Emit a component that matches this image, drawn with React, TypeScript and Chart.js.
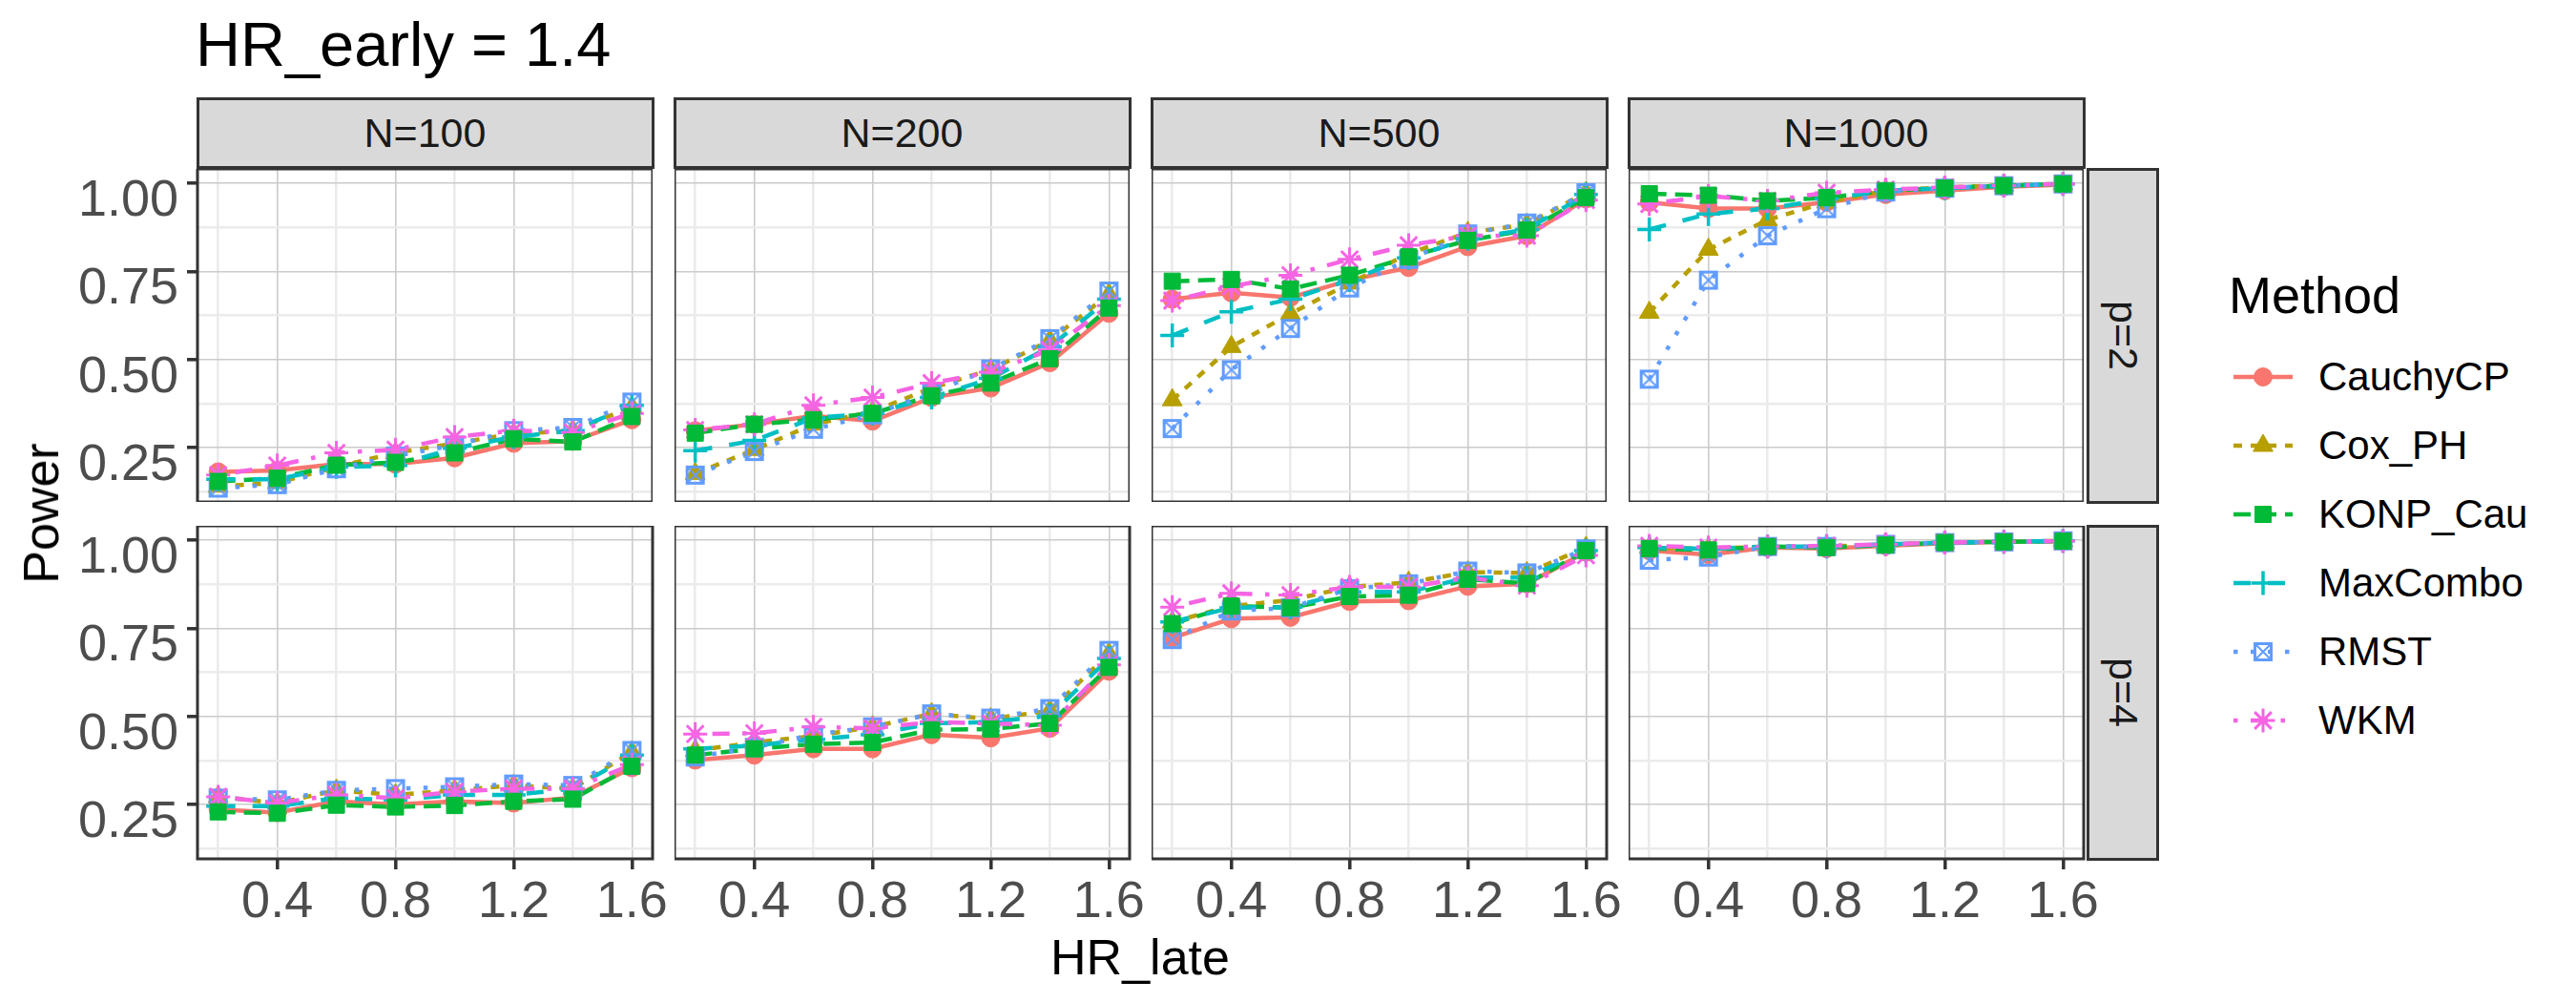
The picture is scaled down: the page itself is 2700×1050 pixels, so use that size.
import { useEffect, useRef } from "react"
import { Chart, type ChartConfiguration, registerables } from "chart.js"
import { drawPoint } from "chart.js/helpers"

Chart.register(...registerables)

// ---- data ----
const hrLate = [0.2, 0.4, 0.6, 0.8, 1.0, 1.2, 1.4, 1.6]
const sampleSizes = ["N=100", "N=200", "N=500", "N=1000"]
const pLabels = ["p=2", "p=4"]
const methods = ["CauchyCP", "Cox_PH", "KONP_Cau", "MaxCombo", "RMST", "WKM"]

const xTickValues = [0.4, 0.8, 1.2, 1.6]
const xTickLabels = ["0.4", "0.8", "1.2", "1.6"]
const xMinorValues = [0.2, 0.6, 1.0, 1.4]
const yTickValues = [0.25, 0.5, 0.75, 1.0]
const yTickLabels = ["0.25", "0.50", "0.75", "1.00"]
const yMinorValues = [0.125, 0.375, 0.625, 0.875]

// power by sample size (N=100, 200, 500, 1000), p = 2
const cauchyP2 = [
  [0.181, 0.185, 0.203, 0.203, 0.221, 0.262, 0.268, 0.329],
  [0.298, 0.316, 0.34, 0.325, 0.392, 0.419, 0.491, 0.631],
  [0.671, 0.689, 0.676, 0.725, 0.761, 0.82, 0.851, 0.955],
  [0.946, 0.928, 0.928, 0.946, 0.968, 0.979, 0.99, 0.996],
]
const coxP2 = [
  [0.14, 0.15, 0.195, 0.235, 0.262, 0.289, 0.298, 0.365],
  [0.176, 0.244, 0.316, 0.352, 0.419, 0.471, 0.554, 0.685],
  [0.385, 0.536, 0.63, 0.716, 0.8, 0.86, 0.883, 0.973],
  [0.633, 0.812, 0.896, 0.946, 0.979, 0.988, 0.994, 0.998],
]
const konpP2 = [
  [0.154, 0.163, 0.2, 0.208, 0.235, 0.275, 0.266, 0.338],
  [0.291, 0.316, 0.329, 0.347, 0.397, 0.433, 0.502, 0.646],
  [0.722, 0.727, 0.7, 0.739, 0.791, 0.838, 0.867, 0.959],
  [0.97, 0.966, 0.95, 0.959, 0.979, 0.986, 0.993, 0.998],
]
const maxComboP2 = [
  [0.16, 0.16, 0.195, 0.199, 0.248, 0.28, 0.298, 0.37],
  [0.241, 0.27, 0.334, 0.347, 0.392, 0.446, 0.536, 0.671],
  [0.568, 0.635, 0.671, 0.725, 0.788, 0.842, 0.869, 0.968],
  [0.869, 0.913, 0.928, 0.955, 0.979, 0.986, 0.993, 0.998],
]
const rmstP2 = [
  [0.135, 0.145, 0.19, 0.226, 0.257, 0.298, 0.307, 0.379],
  [0.172, 0.239, 0.302, 0.343, 0.406, 0.473, 0.559, 0.694],
  [0.304, 0.471, 0.588, 0.703, 0.784, 0.856, 0.887, 0.973],
  [0.444, 0.725, 0.851, 0.928, 0.975, 0.986, 0.993, 0.998],
]
const wkmP2 = [
  [0.172, 0.199, 0.235, 0.244, 0.28, 0.298, 0.293, 0.347],
  [0.3, 0.316, 0.37, 0.392, 0.433, 0.464, 0.527, 0.653],
  [0.667, 0.707, 0.739, 0.784, 0.824, 0.851, 0.851, 0.952],
  [0.941, 0.964, 0.95, 0.973, 0.982, 0.988, 0.993, 0.998],
]

// p = 4
const cauchyP4 = [
  [0.236, 0.227, 0.259, 0.25, 0.259, 0.254, 0.27, 0.354],
  [0.376, 0.39, 0.408, 0.408, 0.448, 0.439, 0.466, 0.628],
  [0.723, 0.777, 0.781, 0.826, 0.828, 0.869, 0.876, 0.966],
  [0.97, 0.959, 0.979, 0.976, 0.984, 0.991, 0.995, 0.997],
]
const coxP4 = [
  [0.272, 0.254, 0.29, 0.277, 0.29, 0.304, 0.295, 0.399],
  [0.403, 0.426, 0.444, 0.47, 0.507, 0.493, 0.516, 0.678],
  [0.768, 0.813, 0.83, 0.867, 0.88, 0.909, 0.907, 0.979],
  [0.979, 0.975, 0.982, 0.982, 0.988, 0.993, 0.995, 0.998],
]
const konpP4 = [
  [0.229, 0.225, 0.248, 0.243, 0.247, 0.259, 0.265, 0.358],
  [0.39, 0.408, 0.421, 0.426, 0.462, 0.464, 0.48, 0.639],
  [0.763, 0.813, 0.808, 0.84, 0.844, 0.889, 0.877, 0.97],
  [0.976, 0.972, 0.982, 0.979, 0.986, 0.993, 0.995, 0.997],
]
const maxComboP4 = [
  [0.245, 0.245, 0.268, 0.263, 0.277, 0.277, 0.295, 0.39],
  [0.408, 0.417, 0.435, 0.448, 0.48, 0.484, 0.502, 0.664],
  [0.768, 0.808, 0.81, 0.853, 0.853, 0.894, 0.894, 0.97],
  [0.979, 0.975, 0.982, 0.982, 0.988, 0.993, 0.995, 0.998],
]
const rmstP4 = [
  [0.268, 0.263, 0.29, 0.295, 0.3, 0.308, 0.304, 0.403],
  [0.385, 0.412, 0.448, 0.47, 0.507, 0.495, 0.522, 0.687],
  [0.718, 0.799, 0.808, 0.862, 0.876, 0.912, 0.907, 0.975],
  [0.943, 0.952, 0.982, 0.982, 0.988, 0.993, 0.995, 0.998],
]
const wkmP4 = [
  [0.272, 0.254, 0.277, 0.268, 0.286, 0.295, 0.295, 0.363],
  [0.45, 0.452, 0.47, 0.466, 0.484, 0.48, 0.475, 0.646],
  [0.81, 0.849, 0.844, 0.867, 0.867, 0.894, 0.871, 0.957],
  [0.984, 0.979, 0.982, 0.984, 0.988, 0.993, 0.995, 0.997],
]

const powerByRow = [
  [cauchyP2, coxP2, konpP2, maxComboP2, rmstP2, wkmP2],
  [cauchyP4, coxP4, konpP4, maxComboP4, rmstP4, wkmP4],
]

// ---- styling ----
const FONT = "'Liberation Sans', Arial, sans-serif"
const COLORS = ["#F8766D", "#B79F00", "#00BA38", "#00BFC4", "#619CFF", "#F564E3"]
const LW = 4.5
const DASHES = [[], [2 * LW, 2 * LW], [4 * LW, 2 * LW], [4 * LW, 4 * LW], [LW, 3 * LW], [LW, 3 * LW, 4 * LW, 3 * LW]]
const POINT_RADIUS = [9.5, 12, 12, 12.5, 11, 12.5]
const POINT_BORDER = [1, 1, 1, 3.5, 0, 3]

const X_MIN = 0.13
const X_MAX = 1.67
const Y_MIN = 0.0957
const Y_MAX = 1.0406

const PANEL_LEFT = [207, 707, 1207, 1707]
const PANEL_TOP = [177, 551]
const PANEL_W = 477
const PANEL_H = 349
const Y_AXIS_W = 150
const X_AXIS_H = 80
const RIGHT_ROOM = 40
const TICK_FONT = 54

let boxX: HTMLCanvasElement | null = null
function boxXStyle() {
  if (boxX) return boxX
  const c = document.createElement("canvas")
  c.width = 22
  c.height = 22
  const g = c.getContext("2d")!
  g.strokeStyle = COLORS[4]
  g.lineWidth = 3
  g.strokeRect(2.5, 2.5, 17, 17)
  g.lineWidth = 2
  g.beginPath()
  g.moveTo(4, 4)
  g.lineTo(18, 18)
  g.moveTo(18, 4)
  g.lineTo(4, 18)
  g.stroke()
  boxX = c
  return c
}

function pointStyleFor(i: number): any {
  return ["circle", "triangle", "rect", "cross", boxXStyle(), "star"][i]
}

const near = (a: number, b: number) => Math.abs(a - b) < 1e-6

const panelBorder = {
  id: "panelBorder",
  afterDraw(chart: Chart) {
    const { ctx, chartArea } = chart
    ctx.save()
    ctx.strokeStyle = "#333333"
    ctx.lineWidth = 3
    ctx.strokeRect(chartArea.left, chartArea.top, chartArea.right - chartArea.left, chartArea.bottom - chartArea.top)
    ctx.restore()
  },
}

function PanelChart({ row, col }: { row: number; col: number }) {
  const chartRef = useRef<HTMLCanvasElement>(null)
  const isLeft = col === 0
  const isBottom = row === 1
  const rightRoom = isBottom ? RIGHT_ROOM : 0
  const left = PANEL_LEFT[col] - (isLeft ? Y_AXIS_W : 0)
  const width = PANEL_W + (isLeft ? Y_AXIS_W : 0) + rightRoom
  const height = PANEL_H + (isBottom ? X_AXIS_H : 0)

  useEffect(() => {
    if (!chartRef.current) return
    const series = powerByRow[row]

    const lineSets = methods.map((m, i) => ({
      label: m,
      data: hrLate.map((x, k) => ({ x, y: series[i][col][k] })),
      showLine: true,
      borderColor: COLORS[i],
      borderWidth: LW,
      borderDash: DASHES[i],
      pointRadius: 0,
      order: 200 - i,
    }))
    const pointSets = methods.map((m, i) => ({
      label: m + " pts",
      data: hrLate.map((x, k) => ({ x, y: series[i][col][k] })),
      showLine: false,
      pointStyle: pointStyleFor(i),
      pointRadius: POINT_RADIUS[i],
      pointBackgroundColor: COLORS[i],
      pointBorderColor: COLORS[i],
      pointBorderWidth: POINT_BORDER[i],
      order: i === 2 ? 0 : 50 - i,
    }))

    const isMajor = (vals: number[], c: any) => vals.some((t) => near(t, c.tick?.value))

    const config: ChartConfiguration = {
      type: "scatter",
      data: { datasets: [...lineSets, ...pointSets] as any },
      options: {
        responsive: false,
        animation: false,
        events: [],
        layout: { padding: { left: 0, top: 0, bottom: 0, right: rightRoom }, autoPadding: false },
        plugins: { legend: { display: false }, tooltip: { enabled: false } },
        scales: {
          x: {
            type: "linear",
            min: X_MIN,
            max: X_MAX,
            afterBuildTicks: (s: any) => {
              s.ticks = [...xMinorValues, ...xTickValues].sort((a, b) => a - b).map((v) => ({ value: v }))
            },
            afterFit: (s: any) => {
              s.height = isBottom ? X_AXIS_H : 0
              s.paddingLeft = 0
              s.paddingRight = 0
            },
            ticks: {
              display: isBottom,
              autoSkip: false,
              maxRotation: 0,
              padding: 3,
              color: "#4D4D4D",
              font: { family: FONT, size: TICK_FONT },
              callback: (v: any) => {
                const i = xTickValues.findIndex((t) => near(t, v))
                return i >= 0 ? xTickLabels[i] : ""
              },
            },
            grid: {
              color: (c: any) => (isMajor(xTickValues, c) ? "#CBCBCB" : "#EBEBEB"),
              lineWidth: (c: any) => (isMajor(xTickValues, c) ? 1.6 : 2.6),
              drawTicks: isBottom,
              tickLength: 11,
              tickWidth: 3.5,
              tickColor: (c: any) => (isMajor(xTickValues, c) ? "#333333" : "rgba(0,0,0,0)"),
            },
            border: { display: false },
          },
          y: {
            type: "linear",
            min: Y_MIN,
            max: Y_MAX,
            afterBuildTicks: (s: any) => {
              s.ticks = [...yMinorValues, ...yTickValues].sort((a, b) => a - b).map((v) => ({ value: v }))
            },
            afterFit: (s: any) => {
              s.width = isLeft ? Y_AXIS_W : 0
              s.paddingTop = 0
              s.paddingBottom = 0
            },
            ticks: {
              display: isLeft,
              autoSkip: false,
              padding: 9,
              labelOffset: 19,
              color: "#4D4D4D",
              font: { family: FONT, size: TICK_FONT },
              callback: (v: any) => {
                const i = yTickValues.findIndex((t) => near(t, v))
                return i >= 0 ? yTickLabels[i] : ""
              },
            },
            grid: {
              color: (c: any) => (isMajor(yTickValues, c) ? "#CBCBCB" : "#EBEBEB"),
              lineWidth: (c: any) => (isMajor(yTickValues, c) ? 1.6 : 2.6),
              drawTicks: isLeft,
              tickLength: 11,
              tickWidth: 3.5,
              tickColor: (c: any) => (isMajor(yTickValues, c) ? "#333333" : "rgba(0,0,0,0)"),
            },
            border: { display: false },
          },
        },
      },
      plugins: [panelBorder],
    }

    const chart = new Chart(chartRef.current, config)
    return () => chart.destroy()
  }, [row, col])

  return (
    <div style={{ position: "absolute", left, top: PANEL_TOP[row], width, height }}>
      <canvas ref={chartRef} width={width} height={height} />
    </div>
  )
}

function LegendKey({ index }: { index: number }) {
  const keyRef = useRef<HTMLCanvasElement>(null)
  useEffect(() => {
    const cv = keyRef.current
    if (!cv) return
    const ctx = cv.getContext("2d")
    if (!ctx) return
    ctx.clearRect(0, 0, cv.width, cv.height)
    ctx.save()
    ctx.strokeStyle = COLORS[index]
    ctx.lineWidth = LW
    ctx.setLineDash(DASHES[index])
    ctx.beginPath()
    ctx.moveTo(1, 22)
    ctx.lineTo(63, 22)
    ctx.stroke()
    ctx.restore()
    ctx.save()
    ctx.fillStyle = COLORS[index]
    ctx.strokeStyle = COLORS[index]
    ctx.lineWidth = POINT_BORDER[index]
    drawPoint(ctx, { pointStyle: pointStyleFor(index), radius: POINT_RADIUS[index], borderWidth: POINT_BORDER[index], rotation: 0 } as any, 32, 22)
    ctx.restore()
  }, [index])
  return <canvas ref={keyRef} width={64} height={44} />
}

const text = (extra: React.CSSProperties): React.CSSProperties => ({
  position: "absolute",
  fontFamily: FONT,
  lineHeight: 1,
  whiteSpace: "nowrap",
  ...extra,
})

const stripBox: React.CSSProperties = {
  position: "absolute",
  boxSizing: "border-box",
  border: "3px solid #333333",
  background: "#D9D9D9",
  display: "flex",
  alignItems: "center",
  justifyContent: "center",
  fontFamily: FONT,
  fontSize: 43,
  lineHeight: 1,
  color: "#1A1A1A",
}

export default function App() {
  const legendRows = [395, 467, 539, 611, 683, 755]
  return (
    <div style={{ position: "absolute", left: 0, top: 0, width: 2700, height: 1050, background: "#fff", overflow: "hidden" }}>
      <div style={text({ left: 205, top: 14, fontSize: 65, color: "#000" })}>HR_early = 1.4</div>

      {sampleSizes.map((s, c) => (
        <div key={s} style={{ ...stripBox, left: PANEL_LEFT[c] - 1.5, top: 102, width: PANEL_W + 3, height: 75 }}>
          {s}
        </div>
      ))}

      {pLabels.map((p, r) => (
        <div key={p} style={{ ...stripBox, left: 2187, top: PANEL_TOP[r] - 1.5, width: 76, height: PANEL_H + 3 }}>
          <span style={{ writingMode: "vertical-rl" }}>{p}</span>
        </div>
      ))}

      {[0, 1].map((r) => [0, 1, 2, 3].map((c) => <PanelChart key={`${r}-${c}`} row={r} col={c} />))}

      <div
        style={text({
          left: 43,
          top: 538,
          fontSize: 52,
          color: "#000",
          transform: "translate(-50%, -50%) rotate(-90deg)",
        })}
      >
        Power
      </div>
      <div style={text({ left: 1195, top: 1003, fontSize: 52, color: "#000", transform: "translate(-50%, -50%)" })}>
        HR_late
      </div>

      <div style={text({ left: 2336, top: 282, fontSize: 54, color: "#000" })}>Method</div>
      {methods.map((m, i) => (
        <div key={m}>
          <div style={{ position: "absolute", left: 2340, top: legendRows[i] - 22 }}>
            <LegendKey index={i} />
          </div>
          <div style={text({ left: 2430, top: legendRows[i] - 21, fontSize: 42, color: "#000" })}>{m}</div>
        </div>
      ))}
    </div>
  )
}
